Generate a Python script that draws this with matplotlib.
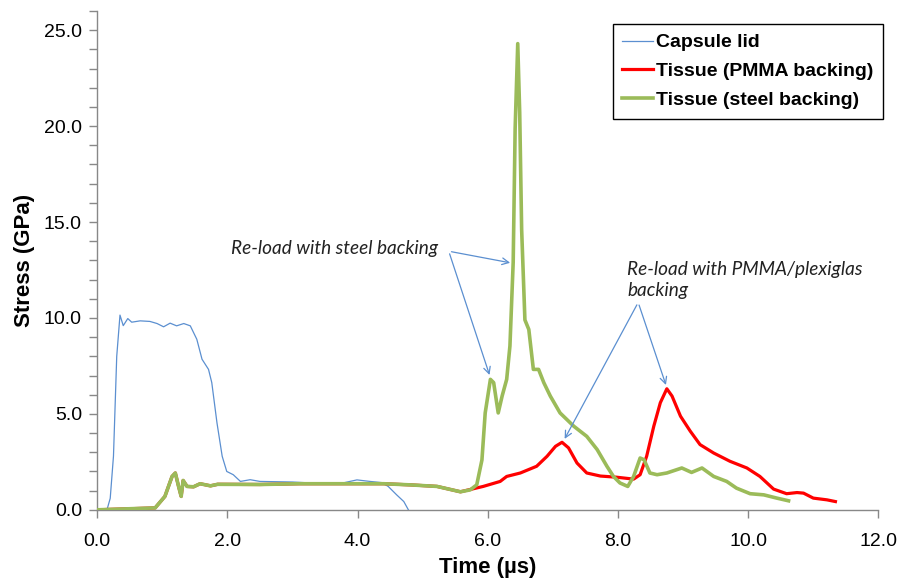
import matplotlib
matplotlib.use("Agg")
import matplotlib.pyplot as plt
from matplotlib.ticker import MultipleLocator, FixedLocator, FuncFormatter

# ---------------- data ----------------
lid_t = [0.00, 0.15, 0.20, 0.25, 0.30, 0.35, 0.40, 0.47, 0.53, 0.66, 0.81, 0.92, 1.02,
         1.12, 1.22, 1.33, 1.43, 1.53, 1.61, 1.71, 1.76, 1.84, 1.92, 1.99, 2.09, 2.20,
         2.35, 2.50, 3.00, 3.40, 3.76, 3.99, 4.19, 4.37, 4.47, 4.60, 4.71, 4.78]
lid_s = [0.00, 0.00, 0.60, 2.80, 8.00, 10.15, 9.60, 9.97, 9.78, 9.85, 9.82, 9.71, 9.54,
         9.73, 9.59, 9.71, 9.59, 8.89, 7.85, 7.32, 6.63, 4.53, 2.79, 2.00, 1.83, 1.48,
         1.57, 1.48, 1.45, 1.38, 1.39, 1.56, 1.48, 1.42, 1.22, 0.78, 0.43, 0.00]

# shared early tissue response (PMMA series lies underneath the steel series)
early_t = [0.00, 0.89, 1.04, 1.15, 1.20, 1.25, 1.29, 1.32, 1.38, 1.48, 1.58, 1.74, 1.85,
           2.50, 3.10, 4.40, 4.81, 5.22, 5.58]
early_s = [0.00, 0.10, 0.70, 1.74, 1.92, 1.22, 0.70, 1.53, 1.22, 1.20, 1.36, 1.25, 1.33,
           1.32, 1.36, 1.36, 1.30, 1.22, 0.94]

pmma_t = [5.93, 6.19, 6.29, 6.50, 6.75, 6.91, 7.04, 7.14, 7.24, 7.37, 7.52, 7.73, 7.98,
          8.24, 8.34, 8.44, 8.55, 8.65, 8.75, 8.83, 8.96, 9.11, 9.26, 9.47, 9.72, 9.98,
          10.18, 10.39, 10.59, 10.75, 10.85, 11.00, 11.21, 11.34]
pmma_s = [1.22, 1.48, 1.74, 1.92, 2.27, 2.79, 3.31, 3.52, 3.23, 2.44, 1.92, 1.76, 1.70,
          1.60, 1.83, 2.79, 4.36, 5.58, 6.31, 5.93, 4.88, 4.10, 3.40, 2.96, 2.53, 2.18,
          1.74, 1.08, 0.84, 0.90, 0.87, 0.61, 0.52, 0.43]

steel_t = [5.73, 5.83, 5.91, 5.96, 6.04, 6.09, 6.16, 6.22, 6.29, 6.34, 6.39, 6.42, 6.46,
           6.49, 6.52, 6.57, 6.63, 6.70, 6.78, 6.86, 6.96, 7.11, 7.32, 7.52, 7.68, 7.83,
           7.93, 8.03, 8.15, 8.24, 8.34, 8.40, 8.49, 8.60, 8.75, 8.98, 9.13, 9.29, 9.47,
           9.67, 9.82, 10.03, 10.24, 10.44, 10.62]
steel_s = [1.04, 1.30, 2.60, 5.05, 6.80, 6.63, 5.05, 5.93, 6.80, 8.54, 12.90, 19.87, 24.30,
           20.70, 14.60, 9.90, 9.40, 7.32, 7.32, 6.63, 5.93, 5.05, 4.36, 3.83, 3.14, 2.27,
           1.74, 1.40, 1.22, 1.74, 2.70, 2.61, 1.92, 1.83, 1.92, 2.18, 1.95, 2.18, 1.74,
           1.48, 1.13, 0.84, 0.78, 0.61, 0.47]

series_names = ["Capsule lid", "Tissue (PMMA backing)", "Tissue (steel backing)"]
x_ticks = [0, 2, 4, 6, 8, 10, 12]
y_labels = [0, 5, 10, 15, 20, 25]

# ---------------- figure ----------------
plt.rcParams['font.family'] = ['Liberation Sans', 'DejaVu Sans']
fig = plt.figure(figsize=(9, 5.8), dpi=100)
ax = fig.add_axes([0.108, 0.121, 0.868, 0.860])

blue = "#5B8FD0"
red = "#FF0000"
green = "#9BBB59"

ax.plot(lid_t, lid_s, color=blue, lw=0.9, label=series_names[0], zorder=3)
ax.plot(early_t + pmma_t, early_s + pmma_s, color=red, lw=2.3,
        label=series_names[1], zorder=4, solid_joinstyle='round')
ax.plot(early_t + steel_t, early_s + steel_s, color=green, lw=2.6,
        label=series_names[2], zorder=5, solid_joinstyle='round')

ax.set_xlim(0, 12)
ax.set_ylim(0, 26)
ax.xaxis.set_major_locator(FixedLocator(x_ticks))
ax.xaxis.set_major_formatter(FuncFormatter(lambda v, p: f"{v:.1f}"))
ax.yaxis.set_major_locator(FixedLocator(y_labels))
ax.yaxis.set_major_formatter(FuncFormatter(lambda v, p: f"{v:.1f}"))
ax.yaxis.set_minor_locator(MultipleLocator(1))

for s in ["top", "right"]:
    ax.spines[s].set_visible(False)
for s in ["left", "bottom"]:
    ax.spines[s].set_color("#888888")
    ax.spines[s].set_linewidth(1.0)
ax.tick_params(axis='both', which='both', direction='out', color="#888888",
               labelsize=14, labelcolor="#000000")
ax.tick_params(axis='y', which='both', length=6, width=1.0, pad=5)
ax.tick_params(axis='x', which='major', length=6, width=1.0, pad=11)

ax.set_xlabel("Time (\u00b5s)", fontsize=16, fontweight='bold')
ax.set_ylabel("Stress (GPa)", fontsize=16, fontweight='bold')
ax.xaxis.set_label_coords(0.5, -0.095)
ax.yaxis.set_label_coords(-0.079, 0.5)

leg = ax.legend(loc='upper right', bbox_to_anchor=(1.0064, 0.974), frameon=True,
                fancybox=False, edgecolor="#000000", framealpha=1,
                prop={'weight': 'bold', 'size': 14}, handlelength=1.6,
                handletextpad=0.15, borderpad=0.5, labelspacing=0.58,
                borderaxespad=0)
leg.get_frame().set_linewidth(1.0)

arrow_kw = dict(arrowstyle='->', color=blue, lw=0.9, mutation_scale=12)
txt_font = dict(family=['Lato', 'DejaVu Sans'], style='italic', fontsize=13.7, color="#222222")

ax.text(5.24, 13.6, "Re-load with steel backing", ha='right', va='center', **txt_font)
ax.annotate("", xy=(6.385, 12.85), xytext=(5.40, 13.48), arrowprops=arrow_kw, zorder=6)
ax.annotate("", xy=(6.04, 6.89), xytext=(5.40, 13.48), arrowprops=arrow_kw, zorder=6)

ax.text(8.14, 12.0, "Re-load with PMMA/plexiglas\nbacking", ha='left', va='center',
        linespacing=1.3, **txt_font)
ax.annotate("", xy=(7.16, 3.57), xytext=(8.31, 10.81), arrowprops=arrow_kw, zorder=6)
ax.annotate("", xy=(8.75, 6.37), xytext=(8.31, 10.81), arrowprops=arrow_kw, zorder=6)

fig.savefig("out.png", dpi=100)
